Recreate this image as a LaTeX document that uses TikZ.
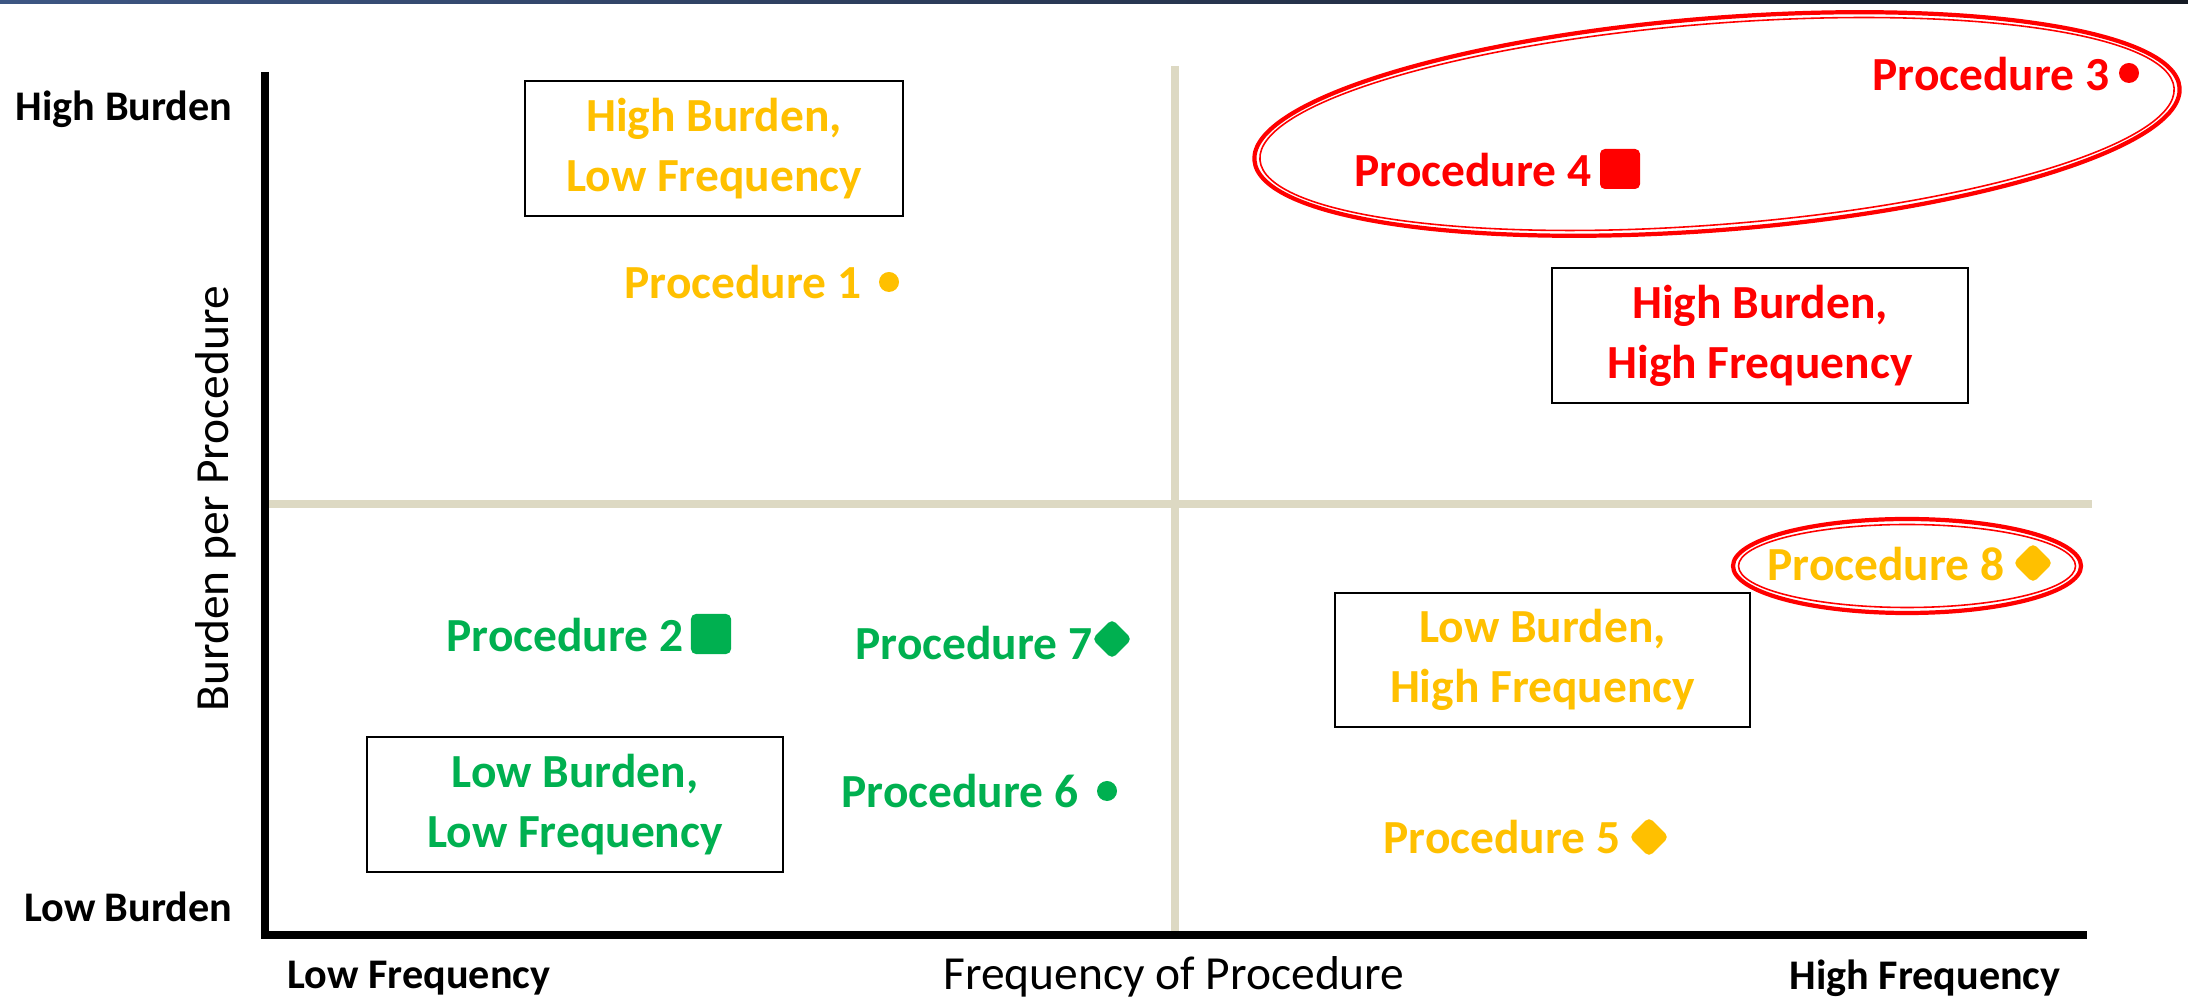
\documentclass[tikz,border=0pt]{standalone}
\usepackage{fontspec}
\setmainfont{Carlito}
\definecolor{pgold}{HTML}{FFC000}
\definecolor{pgreen}{HTML}{00B050}
\definecolor{pred}{HTML}{FF0000}
\definecolor{beige}{HTML}{DDD9C3}
\definecolor{barl}{HTML}{3D5683}
\definecolor{barr}{HTML}{151A24}
\begin{document}
\begin{tikzpicture}[x=0.01cm,y=-0.01cm,
  lab/.style={font=\fontsize{13.5}{16}\selectfont\bfseries, inner sep=0pt, anchor=east},
  qbox/.style={draw=black, line width=0.5pt, align=center, font=\fontsize{13.5}{17}\selectfont\bfseries, inner sep=0pt},
  dotm/.style={circle, inner sep=0pt, minimum size=0.2cm},
  sqm/.style={rectangle, rounded corners=1.4pt, inner sep=0pt, minimum size=0.4cm},
  diam/.style={rectangle, rotate=45, rounded corners=1.4pt, inner sep=0pt, minimum size=0.28cm},
  axend/.style={font=\fontsize{12}{14}\selectfont\bfseries, inner sep=0pt},
  axtitle/.style={font=\fontsize{13.5}{16}\selectfont, inner sep=0pt},
  divider/.style={beige, line width=2.3pt},
  axisline/.style={black, line width=2pt, line join=miter},
  ringout/.style={pred, line width=1.2pt},
  ringin/.style={pred, line width=0.45pt}]
\useasboundingbox (0,0) rectangle (2188,1001);
% top bar
\shade[left color=barl, right color=barr] (0,0) rectangle (2188,4);
% dividers
\coordinate (vtop) at (1175,66);
\coordinate (vbot) at (1175,932);
\coordinate (hl) at (265,504);
\coordinate (hr) at (2092,504);
\draw[divider] (vtop) -- (vbot);
\draw[divider] (hl) -- (hr);
% axes
\coordinate (ytop) at (265,72);
\coordinate (orig) at (265,935);
\coordinate (xend) at (2087,935);
\draw[axisline] (ytop) -- (orig) -- (xend);
% axis labels
\node[axend, anchor=east] (hb) at (233,109) {High Burden};
\node[axend, anchor=east] (lb) at (233,907) {Low Burden};
\node[axend] (lf) at (419,978) {Low Frequency};
\node[axend] (hf) at (1925,978) {High Frequency};
\node[axtitle, rotate=90] (yt) at (216,499) {Burden per Procedure};
\node[axtitle] (xt) at (1174,977) {Frequency of Procedure};
% quadrant boxes
\node[qbox, text=pgold, minimum width=3.78cm, minimum height=1.35cm] (b1) at (714,148.5) {High Burden,\\Low Frequency};
\node[qbox, text=pred, minimum width=4.16cm, minimum height=1.35cm] (b2) at (1760,335.5) {High Burden,\\High Frequency};
\node[qbox, text=pgold, minimum width=4.15cm, minimum height=1.34cm] (b3) at (1542.5,660) {Low Burden,\\High Frequency};
\node[qbox, text=pgreen, minimum width=4.16cm, minimum height=1.35cm] (b4) at (575,804.5) {Low Burden,\\Low Frequency};
% markers
\node[dotm, fill=pgold] (m1) at (889,282) {};
\node[sqm, fill=pgreen] (m2) at (711,634) {};
\node[dotm, fill=pred] (m3) at (2129,73) {};
\node[sqm, fill=pred] (m4) at (1620,169) {};
\node[diam, fill=pgold] (m5) at (1649,837) {};
\node[dotm, fill=pgreen] (m6) at (1107,791) {};
\node[diam, fill=pgreen] (m7) at (1112,639) {};
\node[diam, fill=pgold] (m8) at (2033,563) {};
% labels
\node[lab, text=pgold] (l1) at (862,282) {Procedure 1};
\node[lab, text=pgreen] (l2) at (684,635) {Procedure 2};
\node[lab, text=pred] (l3) at (2110,74) {Procedure 3};
\node[lab, text=pred] (l4) at (1592,170) {Procedure 4};
\node[lab, text=pgold] (l5) at (1621,837) {Procedure 5};
\node[lab, text=pgreen] (l6) at (1079,791) {Procedure 6};
\node[lab, text=pgreen] (l7) at (1093,643) {Procedure 7};
\node[lab, text=pgold] (l8) at (2005,564) {Procedure 8};
% highlight rings
\draw[ringout, rotate around={4.5:(1717,124)}] (1717,124) ellipse [x radius=464, y radius=106];
\draw[ringin, rotate around={4.5:(1717,124)}] (1717,124) ellipse [x radius=458.5, y radius=100.5];
\draw[ringout] (1907,566) ellipse [x radius=174, y radius=47];
\draw[ringin] (1907,566) ellipse [x radius=168.5, y radius=41.5];
\end{tikzpicture}
\end{document}
